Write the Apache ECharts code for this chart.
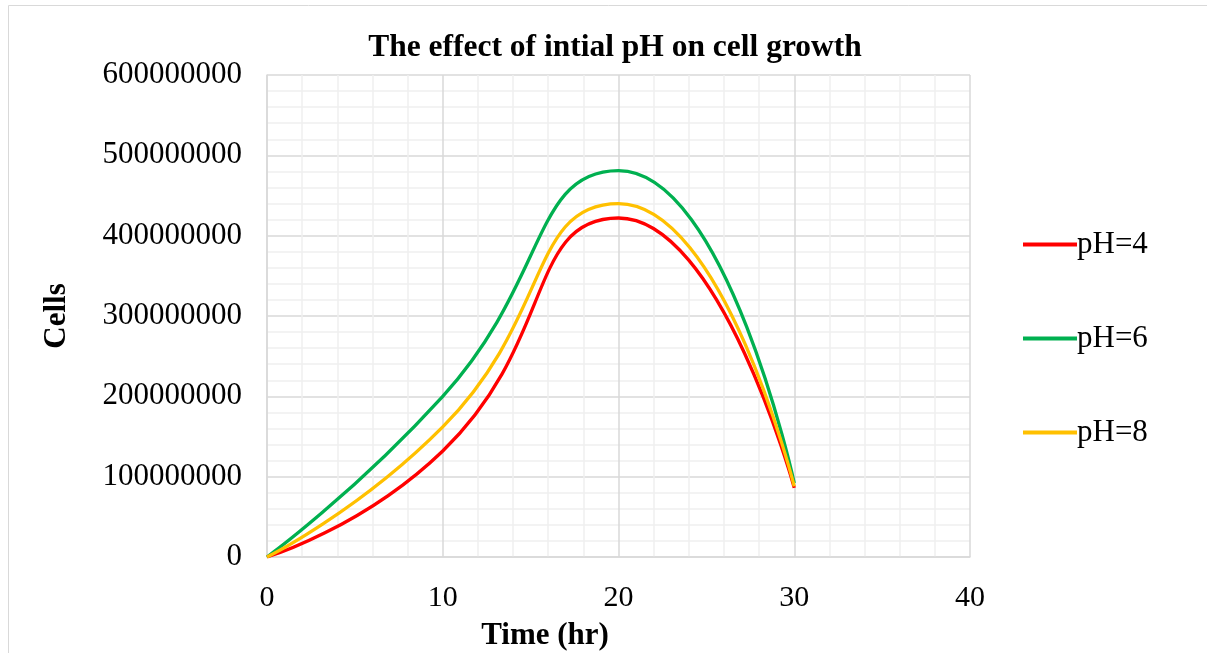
<!DOCTYPE html>
<html><head><meta charset="utf-8">
<script src="https://cdn.jsdelivr.net/npm/echarts@6/dist/echarts.min.js"></script>
<style>html,body{margin:0;padding:0;background:#fff;overflow:hidden}#c{width:1207px;height:653px}</style>
</head><body><div id="c"></div>
<script>
const times = [0, 10, 20, 30];
const ph4 = [0, 132000000, 422000000, 86000000];
const ph6 = [0, 200000000, 481000000, 92000000];
const ph8 = [0, 162000000, 440000000, 88000000];
const seriesNames = ['pH=4', 'pH=6', 'pH=8'];
const colors = ['#FF0000', '#00B050', '#FFC000'];
const yTicks = [0, 100000000, 200000000, 300000000, 400000000, 500000000, 600000000];

const font = '"Liberation Serif", "Times New Roman", serif';
const chart = echarts.init(document.getElementById('c'), null, {renderer: 'canvas'});
const mk = (name, vals, color) => ({
  name, type: 'line', smooth: 0.55, showSymbol: false, symbol: 'none',
  data: times.map((t, i) => [t, vals[i]]),
  lineStyle: {color, width: 3.3}, itemStyle: {color}
});
chart.setOption({
  animation: false,
  graphic: [
    {type: 'rect', shape: {x: 8.5, y: 5.5, width: 1210, height: 660}, style: {fill: null, stroke: '#d9d9d9', lineWidth: 1}},
    {type: 'text', x: 545, y: 636, style: {text: 'Time (hr)', font: 'bold 31px ' + font, fill: '#000', align: 'center', verticalAlign: 'middle'}}
  ],
  title: {text: 'The effect of intial pH on cell growth', left: 610, top: 27, textAlign: 'center',
    textStyle: {fontFamily: font, fontSize: 31.5, fontWeight: 'bold', color: '#000'}},
  legend: {orient: 'vertical', left: 1018, top: 224, itemGap: 63, itemWidth: 54, itemHeight: 4, icon: 'rect',
    data: seriesNames,
    textStyle: {fontFamily: font, fontSize: 31, color: '#000', padding: [0, 0, 0, -5]}},
  grid: {left: 267, top: 75, width: 703, height: 482, containLabel: false},
  xAxis: {type: 'value', min: 0, max: 40, interval: 10,
    axisLine: {show: true, lineStyle: {color: '#d9d9d9', width: 1.5}}, axisTick: {show: false},
    axisLabel: {fontFamily: font, fontSize: 30, color: '#000', margin: 26},
    splitLine: {show: true, lineStyle: {color: '#d9d9d9', width: 1.5}},
    minorTick: {show: false, splitNumber: 5},
    minorSplitLine: {show: true, lineStyle: {color: '#f0f0f0', width: 1.5}}},
  yAxis: {type: 'value', min: 0, max: 600000000, interval: 100000000,
    name: 'Cells', nameLocation: 'middle', nameGap: 195, nameRotate: 90,
    nameTextStyle: {fontFamily: font, fontSize: 31, fontWeight: 'bold', color: '#000'},
    axisLine: {show: true, lineStyle: {color: '#d9d9d9', width: 1.5}}, axisTick: {show: false},
    axisLabel: {fontFamily: font, fontSize: 31, color: '#000', margin: 25,
      formatter: v => yTicks.includes(v) ? String(v) : ''},
    splitLine: {show: true, lineStyle: {color: '#d9d9d9', width: 1.5}},
    minorTick: {show: false, splitNumber: 5},
    minorSplitLine: {show: true, lineStyle: {color: '#f0f0f0', width: 1.5}}},
  series: [mk(seriesNames[0], ph4, colors[0]), mk(seriesNames[1], ph6, colors[1]), mk(seriesNames[2], ph8, colors[2])]
});
</script></body></html>
